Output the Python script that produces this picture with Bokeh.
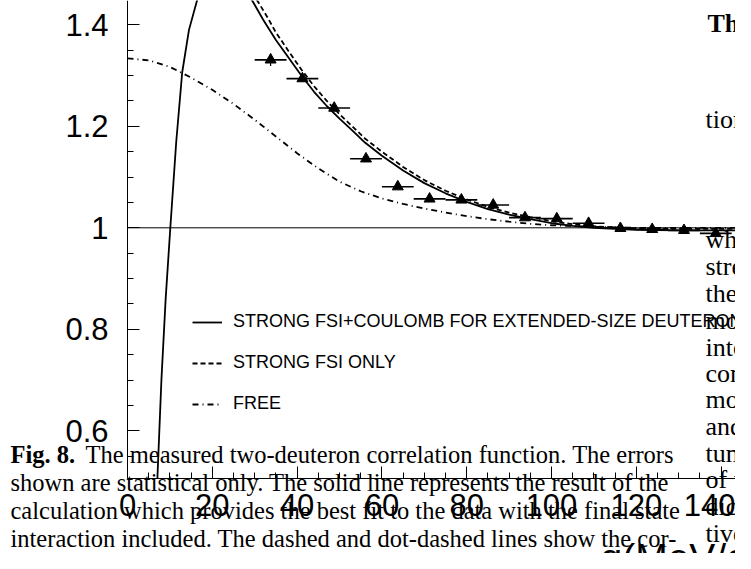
from bokeh.plotting import figure
from bokeh.models import Range1d, FixedTicker, Label, Legend, LegendItem, ColumnDataSource
from bokeh.embed import file_html
from bokeh.resources import INLINE

# ---------------- data ----------------
q_data = [33.75, 41.25, 48.75, 56.25, 63.75, 71.25, 78.75, 86.25, 93.75,
          101.25, 108.75, 116.25, 123.75, 131.25, 138.75]
c_data = [1.331, 1.294, 1.236, 1.136, 1.081, 1.057, 1.055, 1.045, 1.020,
          1.018, 1.009, 0.999, 0.997, 0.995, 0.989]
c_err = [0.012, 0.006, 0.005, 0.004, 0.004, 0.003, 0.003, 0.003, 0.003,
         0.003, 0.003, 0.003, 0.003, 0.003, 0.003]
q_bin_half = 3.75

q_full = [7.05, 8.0, 9.0, 10.1, 11.5, 12.9, 14.5, 16.4, 18.5, 21.0, 23.5,
          26.0, 29.4, 32.0, 35.0, 38.0, 41.0, 44.0, 47.0, 50.0, 53.0, 56.0,
          60.0, 65.0, 70.0, 75.0, 80.0, 85.0, 90.0, 95.0, 100.0, 105.0, 110.0,
          115.0, 120.0, 130.0, 143.4]
c_full = [0.506, 0.70, 0.86, 1.00, 1.17, 1.306, 1.39, 1.448, 1.51, 1.55,
          1.56, 1.53, 1.448, 1.41, 1.37, 1.335, 1.300, 1.268, 1.240, 1.215,
          1.192, 1.168, 1.142, 1.113, 1.088, 1.068, 1.051, 1.037, 1.026, 1.017,
          1.009, 1.004, 1.000, 0.998, 0.996, 0.995, 0.995]

q_strong = [21.0, 24.0, 27.0, 30.6, 33.0, 35.0, 38.0, 41.0, 44.0, 47.0, 50.0,
            53.0, 56.0, 60.0, 65.0, 70.0, 75.0, 80.0, 85.0, 90.0, 95.0, 100.0,
            105.0, 110.0, 115.0, 120.0, 130.0, 143.4]
c_strong = [1.85, 1.65, 1.52, 1.448, 1.415, 1.385, 1.348, 1.312, 1.279, 1.250,
            1.224, 1.200, 1.176, 1.150, 1.120, 1.094, 1.073, 1.056, 1.041,
            1.030, 1.021, 1.013, 1.007, 1.003, 1.001, 0.999, 0.998, 0.998]

q_free = [0.0, 5.0, 10.0, 15.0, 20.0, 25.0, 30.0, 35.0, 40.0, 45.0, 50.0, 55.0,
          60.0, 65.0, 70.0, 75.0, 80.0, 85.0, 90.0, 95.0, 100.0, 110.0, 120.0, 143.4]
c_free = [1.334, 1.330, 1.317, 1.296, 1.272, 1.244, 1.213, 1.180, 1.147, 1.117,
          1.091, 1.072, 1.058, 1.047, 1.038, 1.030, 1.023, 1.017, 1.012, 1.008,
          1.005, 1.002, 1.000, 1.000]

x_ticks = [0, 20, 40, 60, 80, 100, 120, 140]
x_minor = [5, 10, 15, 25, 30, 35, 45, 50, 55, 65, 70, 75, 85, 90, 95, 105,
           110, 115, 125, 130, 135]
y_ticks = [0.6, 0.8, 1.0, 1.2, 1.4]
y_tick_labels = ["0.6", "0.8", "1", "1.2", "1.4"]
y_minor = [0.55, 0.65, 0.7, 0.75, 0.85, 0.9, 0.95, 1.05, 1.1, 1.15, 1.25,
           1.3, 1.35]

q_axis = (0.0, 143.4)        # extent of the drawn q axis
c_axis = (0.506, 1.448)      # extent of the drawn C axis
ref_level = 1.0

legend_labels = ["STRONG FSI+COULOMB FOR EXTENDED-SIZE DEUTERONS",
                 "STRONG FSI ONLY", "FREE"]
x_title = "q(MeV/c)"

caption_bold = "Fig. 8."
caption_lines = [
    "The measured two-deuteron correlation function. The errors",
    "shown are statistical only. The solid line represents the result of the",
    "calculation which provides the best fit to the data with the final state",
    "interaction included. The dashed and dot-dashed lines show the cor-",
    "relation function with only strong final state interaction taken into ac-",
]
column_lines = ["tion", "whe", "stren", "the e", "mon", "into", "com", "mon",
                "and s", "tum", "of t", "dicu", "tive"]

# ---------------- figure ----------------
W, H = 735, 553
p = figure(width=W, height=H, output_backend="svg", toolbar_location=None,
           x_range=Range1d(-29.953, 143.40), y_range=Range1d(0.35823, 1.4479),
           min_border=0, min_border_left=0, min_border_right=0,
           min_border_top=0, min_border_bottom=0)
p.grid.visible = False
p.outline_line_color = None
p.background_fill_color = "white"
p.border_fill_color = "white"

for ax in (p.xaxis[0], p.yaxis[0]):
    ax.axis_line_color = "black"
    ax.axis_line_width = 1
    ax.major_tick_in = 12
    ax.major_tick_out = 0
    ax.minor_tick_in = 6
    ax.minor_tick_out = 0
    ax.major_tick_line_color = "black"
    ax.minor_tick_line_color = "black"
    ax.major_label_text_font = "Liberation Sans"
    ax.major_label_text_font_size = "31px"
    ax.major_label_text_color = "black"

p.xaxis.ticker = FixedTicker(ticks=x_ticks, minor_ticks=x_minor)
p.xaxis.fixed_location = c_axis[0]
p.xaxis.bounds = q_axis
p.xaxis.major_label_standoff = 15
p.yaxis.ticker = FixedTicker(ticks=y_ticks, minor_ticks=y_minor)
p.yaxis.major_label_overrides = {t: s for t, s in zip(y_ticks, y_tick_labels)}
p.yaxis.fixed_location = q_axis[0]
p.yaxis.bounds = c_axis
p.yaxis.major_label_standoff = 19

p.line(list(q_axis), [ref_level, ref_level], line_color="black", line_width=1)

r_full = p.line(q_full, c_full, line_color="black", line_width=1.8)
r_strong = p.line(q_strong, c_strong, line_color="black", line_width=1.8,
                  line_dash="5 3")
r_free = p.line(q_free, c_free, line_color="black", line_width=1.8,
                line_dash="6 4 1 4")

src = ColumnDataSource(dict(
    q=q_data, c=c_data,
    ql=[q - q_bin_half for q in q_data], qh=[q + q_bin_half for q in q_data],
    cl=[c - e for c, e in zip(c_data, c_err)], ch=[c + e for c, e in zip(c_data, c_err)],
))
p.segment(x0="ql", y0="c", x1="qh", y1="c", source=src, line_color="black", line_width=1.6)
p.segment(x0="q", y0="cl", x1="q", y1="ch", source=src, line_color="black", line_width=1.2)
p.scatter(x="q", y="c", source=src, marker="triangle", size=11,
          fill_color="black", line_color="black")

legend = Legend(items=[LegendItem(label=legend_labels[0], renderers=[r_full]),
                       LegendItem(label=legend_labels[1], renderers=[r_strong]),
                       LegendItem(label=legend_labels[2], renderers=[r_free])],
                location=(192, 139), orientation="vertical",
                border_line_color=None, background_fill_alpha=0,
                padding=0, margin=0, spacing=20, glyph_width=30,
                glyph_height=20, label_height=20, label_standoff=11,
                label_text_font="Liberation Sans", label_text_font_size="18px",
                label_text_color="black")
p.add_layout(legend)

TEXT_DY = -8   # correction so that the glyph baseline lands where wanted


def add_text(txt, px, py, size, font, style="normal"):
    # px, py: baseline position measured from the top-left of the canvas
    p.add_layout(Label(x=px, y=H - (py + TEXT_DY), x_units="screen", y_units="screen",
                       text=txt, text_font=font, text_font_size=size,
                       text_font_style=style, text_baseline="alphabetic",
                       text_align="left", text_color="black"))


# caption
add_text(caption_bold, 10, 462, "24.5px", "Liberation Serif", "bold")
caption_x = [85, 10, 10, 10, 10]
caption_y = [462, 490, 518, 546, 574]
for t, cx, cy in zip(caption_lines, caption_x, caption_y):
    add_text(t, cx, cy, "24.5px", "Liberation Serif")

# right column text fragments
add_text("The", 707, 31, "26px", "Liberation Serif", "bold")
add_text("I", 745, 98, "26px", "Liberation Serif")
col_y = [127, 247, 274, 301, 328, 355, 381, 407, 434, 461, 487, 514, 541]
for t, cy in zip(column_lines, col_y):
    add_text(t, 705, cy, "26px", "Liberation Serif")

# x axis title
add_text(x_title, 600, 565, "39px", "Liberation Sans")

open("out.html", "w").write(file_html(p, INLINE))
